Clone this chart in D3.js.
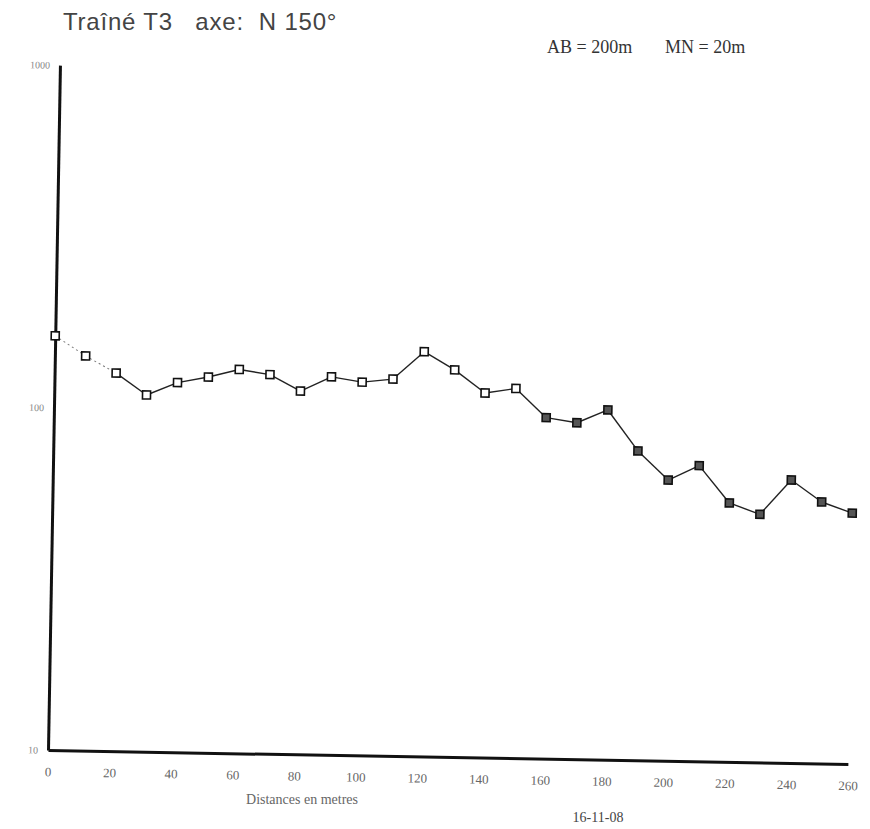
<!DOCTYPE html>
<html>
<head>
<meta charset="utf-8">
<script src="https://cdn.jsdelivr.net/npm/d3@7"></script>
<style>
  html, body { margin: 0; padding: 0; background: #fff; }
  svg { display: block; }
</style>
</head>
<body>
<svg id="chart" width="870" height="829"></svg>
<script>
// Profil de résistivité apparente, traîné T3 (AB = 200 m, MN = 20 m)
const distances = [0, 10, 20, 30, 40, 50, 60, 70, 80, 90, 100, 110, 120, 130,
                   140, 150, 160, 170, 180, 190, 200, 210, 220, 230, 240, 250, 260];
const resistivity = [162, 142, 127, 110, 120, 125, 132, 128, 115, 127, 123, 126, 152, 135,
                     116, 120, 99, 96, 105, 80, 66, 73, 57, 53, 67, 58, 54];
const xTicks = [0, 20, 40, 60, 80, 100, 120, 140, 160, 180, 200, 220, 240, 260];
const yTicks = [10, 100, 1000];

const svg = d3.select("#chart");
const origin = { x: 48, y: 750 };

// the sheet sits slightly askew: whole plot turned about the axes' corner
const plot = svg.append("g")
  .attr("transform", `rotate(1, ${origin.x}, ${origin.y})`);

const x = d3.scaleLinear().domain([0, 260]).range([origin.x, 848]);
const y = d3.scaleLog().domain([10, 1000]).range([origin.y, 65]);

// axes
const xAxis = plot.append("g")
  .attr("transform", `translate(0, ${origin.y})`)
  .call(d3.axisBottom(x).tickValues(xTicks).tickSize(0).tickPadding(17).tickFormat(d3.format("d")));
xAxis.select(".domain").attr("stroke", "#111").attr("stroke-width", 3);
xAxis.selectAll("text")
  .attr("font-family", "'Liberation Serif', 'DejaVu Serif', serif")
  .attr("font-size", 13)
  .attr("fill", "#666");

const yAxis = plot.append("g")
  .attr("transform", `translate(${origin.x}, 0)`)
  .call(d3.axisLeft(y).tickValues(yTicks).tickSize(0).tickPadding(10).tickFormat(d3.format("d")));
yAxis.select(".domain").attr("stroke", "#111").attr("stroke-width", 3);
yAxis.selectAll("text")
  .attr("font-family", "'Liberation Serif', 'DejaVu Serif', serif")
  .attr("font-size", 10)
  .attr("fill", "#888");

const pts = distances.map((d, i) => ({ d, v: resistivity[i] }));

// profile line: first stretch traced dotted, the rest plain
const segs = d3.pairs(pts);
plot.append("g").selectAll("line")
  .data(segs)
  .join("line")
  .attr("x1", s => x(s[0].d)).attr("y1", s => y(s[0].v))
  .attr("x2", s => x(s[1].d)).attr("y2", s => y(s[1].v))
  .attr("stroke", (s, i) => i < 2 ? "#777" : "#222")
  .attr("stroke-width", (s, i) => i < 2 ? 1 : 1.4)
  .attr("stroke-dasharray", (s, i) => i < 2 ? "2,3" : null);

// square markers
const size = 8;
plot.append("g").selectAll("rect")
  .data(pts)
  .join("rect")
  .attr("x", p => x(p.d) - size / 2)
  .attr("y", p => y(p.v) - size / 2)
  .attr("width", size).attr("height", size)
  .attr("fill", p => p.d >= 160 ? "#555" : "#fff")
  .attr("stroke", "#111")
  .attr("stroke-width", 1.6);

// axis caption and date
svg.append("text")
  .attr("x", 302).attr("y", 804)
  .attr("text-anchor", "middle")
  .attr("font-family", "'Liberation Serif', 'DejaVu Serif', serif")
  .attr("font-size", 14)
  .attr("fill", "#666")
  .text("Distances en metres");

svg.append("text")
  .attr("x", 598).attr("y", 822)
  .attr("text-anchor", "middle")
  .attr("font-family", "'Liberation Serif', 'DejaVu Serif', serif")
  .attr("font-size", 14)
  .attr("fill", "#444")
  .text("16-11-08");

// titles
svg.append("text")
  .attr("x", 63).attr("y", 30)
  .style("white-space", "pre")
  .attr("font-family", "'Liberation Sans', Arial, sans-serif")
  .attr("font-size", 24)
  .attr("letter-spacing", 0.8)
  .attr("fill", "#444")
  .text("Traîné T3   axe:  N 150°");

const setup = svg.append("g")
  .attr("font-family", "'Liberation Serif', 'DejaVu Serif', serif")
  .attr("font-size", 18)
  .attr("fill", "#333");
setup.append("text").attr("x", 547).attr("y", 53).text("AB = 200m");
setup.append("text").attr("x", 665).attr("y", 53).text("MN = 20m");
</script>
</body>
</html>
